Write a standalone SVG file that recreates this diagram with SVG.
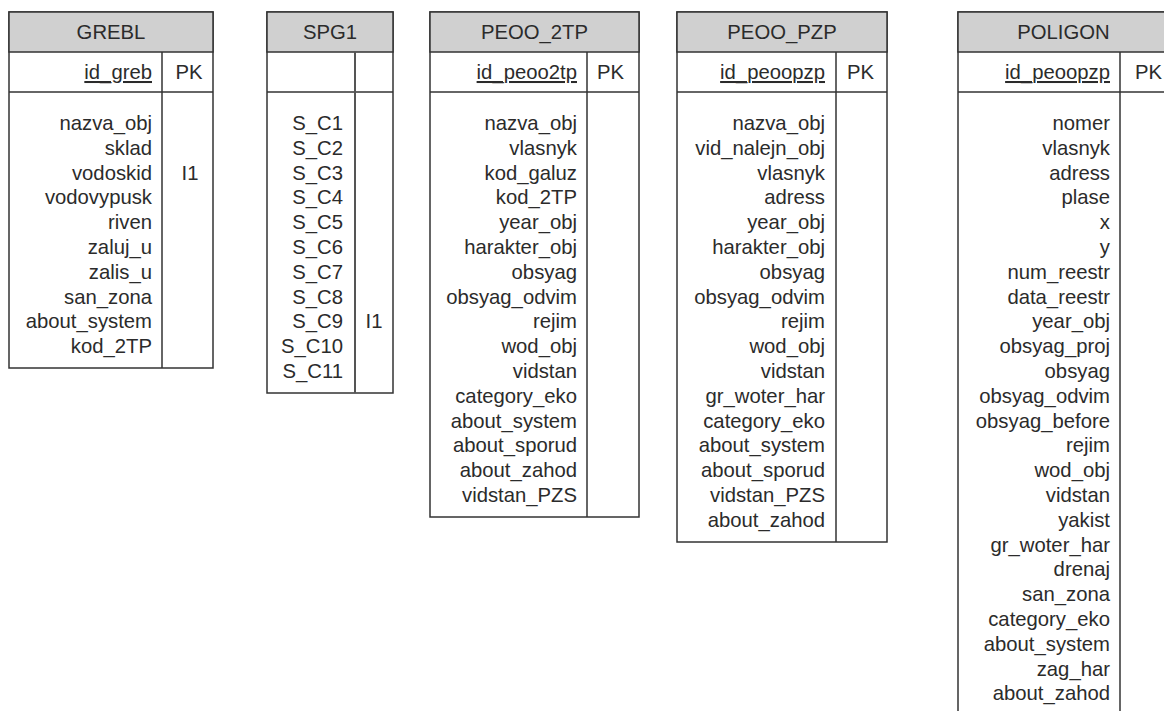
<svg xmlns="http://www.w3.org/2000/svg" width="1164" height="711" viewBox="0 0 1164 711">
<style>
text{font-family:"Liberation Sans",Arial,sans-serif;font-size:20.3px;fill:#2b2b2b}
.hdr{fill:#d0d0d0;stroke:#333;stroke-width:1.5}
.box{fill:#fff;stroke:#333;stroke-width:1.5}
.ln{stroke:#333;stroke-width:1.5;fill:none}
.t{text-anchor:middle}
.f{text-anchor:end}
.k{text-anchor:middle}
.u{text-decoration:underline}
</style>
<rect width="1164" height="711" fill="#fff"/>
<g id="connectors"/>

<g id="GREBL">
<rect class="box" x="9" y="12" width="204" height="356"/>
<rect class="hdr" x="9" y="12" width="204" height="40"/>
<line class="ln" x1="9" y1="92" x2="213" y2="92"/>
<line class="ln" x1="162" y1="52" x2="162" y2="368"/>
<text class="t" x="111" y="39">GREBL</text>
<text class="f u" x="152" y="79">id_greb</text>
<text class="k" x="189" y="79">PK</text>
<text class="f" x="152"><tspan x="152" y="130">nazva_obj</tspan><tspan x="152" y="154.8">sklad</tspan><tspan x="152" y="179.6">vodoskid</tspan><tspan x="152" y="204.4">vodovypusk</tspan><tspan x="152" y="229.2">riven</tspan><tspan x="152" y="254">zaluj_u</tspan><tspan x="152" y="278.8">zalis_u</tspan><tspan x="152" y="303.6">san_zona</tspan><tspan x="152" y="328.4">about_system</tspan><tspan x="152" y="353.2">kod_2TP</tspan></text>
<text class="k" x="190" y="179.6">I1</text>
</g>

<g id="SPG1">
<rect class="box" x="267" y="12" width="126" height="381"/>
<rect class="hdr" x="267" y="12" width="126" height="40"/>
<line class="ln" x1="267" y1="92" x2="393" y2="92"/>
<line class="ln" x1="355" y1="52" x2="355" y2="393" style="stroke:#555;stroke-width:2"/>
<text class="t" x="330" y="39">SPG1</text>
<text class="f" x="343"><tspan x="343" y="130">S_C1</tspan><tspan x="343" y="154.8">S_C2</tspan><tspan x="343" y="179.6">S_C3</tspan><tspan x="343" y="204.4">S_C4</tspan><tspan x="343" y="229.2">S_C5</tspan><tspan x="343" y="254">S_C6</tspan><tspan x="343" y="278.8">S_C7</tspan><tspan x="343" y="303.6">S_C8</tspan><tspan x="343" y="328.4">S_C9</tspan><tspan x="343" y="353.2">S_C10</tspan><tspan x="343" y="378">S_C11</tspan></text>
<text class="k" x="374" y="328.4">I1</text>
</g>

<g id="PEOO_2TP">
<rect class="box" x="430" y="12" width="209" height="505"/>
<rect class="hdr" x="430" y="12" width="209" height="40"/>
<line class="ln" x1="430" y1="92" x2="639" y2="92"/>
<line class="ln" x1="587" y1="52" x2="587" y2="517"/>
<text class="t" x="534.5" y="39">PEOO_2TP</text>
<text class="f u" x="577" y="79">id_peoo2tp</text>
<text x="597" y="79">PK</text>
<text class="f" x="577"><tspan x="577" y="130">nazva_obj</tspan><tspan x="577" y="154.8">vlasnyk</tspan><tspan x="577" y="179.6">kod_galuz</tspan><tspan x="577" y="204.4">kod_2TP</tspan><tspan x="577" y="229.2">year_obj</tspan><tspan x="577" y="254">harakter_obj</tspan><tspan x="577" y="278.8">obsyag</tspan><tspan x="577" y="303.6">obsyag_odvim</tspan><tspan x="577" y="328.4">rejim</tspan><tspan x="577" y="353.2">wod_obj</tspan><tspan x="577" y="378">vidstan</tspan><tspan x="577" y="402.8">category_eko</tspan><tspan x="577" y="427.6">about_system</tspan><tspan x="577" y="452.4">about_sporud</tspan><tspan x="577" y="477.2">about_zahod</tspan><tspan x="577" y="502">vidstan_PZS</tspan></text>
</g>

<g id="PEOO_PZP">
<rect class="box" x="677" y="12" width="210" height="530"/>
<rect class="hdr" x="677" y="12" width="210" height="40"/>
<line class="ln" x1="677" y1="92" x2="887" y2="92"/>
<line class="ln" x1="836" y1="52" x2="836" y2="542"/>
<text class="t" x="782" y="39">PEOO_PZP</text>
<text class="f u" x="825" y="79">id_peoopzp</text>
<text x="847" y="79">PK</text>
<text class="f" x="825"><tspan x="825" y="130">nazva_obj</tspan><tspan x="825" y="154.8">vid_nalejn_obj</tspan><tspan x="825" y="179.6">vlasnyk</tspan><tspan x="825" y="204.4">adress</tspan><tspan x="825" y="229.2">year_obj</tspan><tspan x="825" y="254">harakter_obj</tspan><tspan x="825" y="278.8">obsyag</tspan><tspan x="825" y="303.6">obsyag_odvim</tspan><tspan x="825" y="328.4">rejim</tspan><tspan x="825" y="353.2">wod_obj</tspan><tspan x="825" y="378">vidstan</tspan><tspan x="825" y="402.8">gr_woter_har</tspan><tspan x="825" y="427.6">category_eko</tspan><tspan x="825" y="452.4">about_system</tspan><tspan x="825" y="477.2">about_sporud</tspan><tspan x="825" y="502">vidstan_PZS</tspan><tspan x="825" y="526.8">about_zahod</tspan></text>
</g>

<g id="POLIGON">
<rect class="box" x="958" y="12" width="240" height="720"/>
<rect class="hdr" x="958" y="12" width="240" height="40"/>
<line class="ln" x1="958" y1="92" x2="1198" y2="92"/>
<line class="ln" x1="1120" y1="52" x2="1120" y2="732"/>
<text class="t" x="1063.5" y="39">POLIGON</text>
<text class="f u" x="1110" y="79">id_peoopzp</text>
<text x="1135" y="79">PK</text>
<text class="f" x="1110"><tspan x="1110" y="130">nomer</tspan><tspan x="1110" y="154.8">vlasnyk</tspan><tspan x="1110" y="179.6">adress</tspan><tspan x="1110" y="204.4">plase</tspan><tspan x="1110" y="229.2">x</tspan><tspan x="1110" y="254">y</tspan><tspan x="1110" y="278.8">num_reestr</tspan><tspan x="1110" y="303.6">data_reestr</tspan><tspan x="1110" y="328.4">year_obj</tspan><tspan x="1110" y="353.2">obsyag_proj</tspan><tspan x="1110" y="378">obsyag</tspan><tspan x="1110" y="402.8">obsyag_odvim</tspan><tspan x="1110" y="427.6">obsyag_before</tspan><tspan x="1110" y="452.4">rejim</tspan><tspan x="1110" y="477.2">wod_obj</tspan><tspan x="1110" y="502">vidstan</tspan><tspan x="1110" y="526.8">yakist</tspan><tspan x="1110" y="551.6">gr_woter_har</tspan><tspan x="1110" y="576.4">drenaj</tspan><tspan x="1110" y="601.2">san_zona</tspan><tspan x="1110" y="626">category_eko</tspan><tspan x="1110" y="650.8">about_system</tspan><tspan x="1110" y="675.6">zag_har</tspan><tspan x="1110" y="700.4">about_zahod</tspan></text>
</g>
</svg>
